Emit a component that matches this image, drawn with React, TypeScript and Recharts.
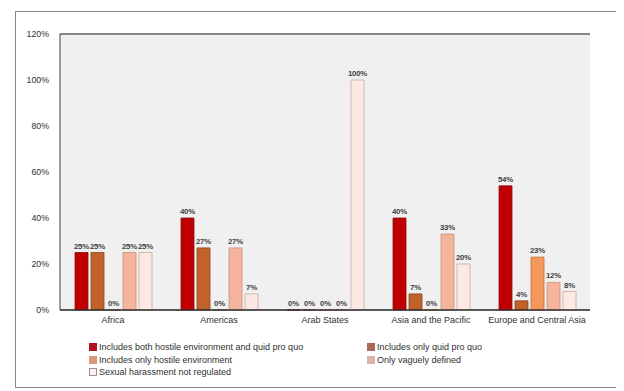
import React from "react";
import { BarChart, Bar, XAxis, YAxis, CartesianGrid, LabelList, ReferenceLine } from "recharts";

const regions = ["Africa", "Americas", "Arab States", "Asia and the Pacific", "Europe and Central Asia"];
const bothHostileAndQuid = [25, 40, 0, 40, 54];
const onlyQuid = [25, 27, 0, 7, 4];
const onlyHostile = [0, 0, 0, 0, 23];
const vaguelyDefined = [25, 27, 0, 33, 12];
const notRegulated = [25, 7, 100, 20, 8];
const yTicks = [0, 20, 40, 60, 80, 100, 120];

const seriesNames = [
  "Includes both hostile environment and quid pro quo",
  "Includes only quid pro quo",
  "Includes only hostile environment",
  "Only vaguely defined",
  "Sexual harassment not regulated",
];
const seriesKeys = ["s1", "s2", "s3", "s4", "s5"];
const fills = ["#c00000", "#c0622a", "#f4975a", "#f4b59c", "#fde9e4"];
const strokes = ["#8a1010", "#8a4a22", "#c07040", "#c89080", "#c8a8a0"];
const legendFills = ["#b01020", "#a86a55", "#d89a78", "#dcb4a4", "#fbf4f2"];

const data = regions.map((r, i) => ({
  region: r,
  s1: bothHostileAndQuid[i],
  s2: onlyQuid[i],
  s3: onlyHostile[i],
  s4: vaguelyDefined[i],
  s5: notRegulated[i],
}));

const FONT = "'Liberation Sans', Arial, sans-serif";

export default function App() {
  return (
    <div
      style={{
        position: "relative",
        marginLeft: 7,
        marginTop: 3,
        width: 600,
        height: 375,
        border: "1px solid #8a8a8a",
        boxShadow: "2px 2px 3px rgba(0,0,0,0.25)",
        background: "#fff",
        fontFamily: FONT,
      }}
    >
      <BarChart
        width={600}
        height={375}
        data={data}
        margin={{ top: 22, right: 26, bottom: 59, left: 0 }}
        barSize={13}
        barGap={3}
      >
        <CartesianGrid vertical={false} stroke="#a0a0a0" fill="#f0f0f0" />
        <XAxis
          dataKey="region"
          tickLine={false}
          tickSize={0}
          tickMargin={7}
          axisLine={{ stroke: "#303030", strokeWidth: 1.5 }}
          tick={{ fontSize: 9, fill: "#303030", fontFamily: FONT }}
          interval={0}
          height={18}
        />
        <YAxis
          yAxisId="left"
          domain={[0, 120]}
          ticks={yTicks}
          tickFormatter={(v: number) => `${v}%`}
          tickLine={false}
          tickSize={0}
          tickMargin={11}
          width={44}
          axisLine={{ stroke: "#404040" }}
          tick={{ fontSize: 8.8, fill: "#303030", fontFamily: FONT }}
        />
        <YAxis
          yAxisId="right"
          orientation="right"
          domain={[0, 120]}
          tick={false}
          tickLine={false}
          width={0}
          axisLine={{ stroke: "#404040" }}
        />
        <ReferenceLine yAxisId="left" y={120} stroke="#404040" />
        {seriesKeys.map((k, i) => (
          <Bar
            key={k}
            yAxisId="left"
            dataKey={k}
            name={seriesNames[i]}
            fill={fills[i]}
            stroke={strokes[i]}
            strokeWidth={0.8}
            minPointSize={0.01}
            isAnimationActive={false}
          >
            <LabelList
              dataKey={k}
              position="top"
              offset={4}
              formatter={(v: number) => `${v}%`}
              style={{ fontSize: 7.8, fontWeight: 700, fill: "#404040", fontFamily: FONT, letterSpacing: -0.2 }}
            />
          </Bar>
        ))}
      </BarChart>
      <div
        style={{
          position: "absolute",
          left: 73,
          top: 329,
          width: 520,
          display: "grid",
          gridTemplateColumns: "278px 200px",
          rowGap: 0,
          fontSize: 9,
          color: "#303030",
          lineHeight: "12.6px",
        }}
      >
        {seriesNames.map((n, i) => (
          <div key={n} style={{ display: "flex", alignItems: "center", whiteSpace: "nowrap" }}>
            <span
              style={{
                display: "inline-block",
                width: 6,
                height: 6,
                marginRight: 2,
                background: legendFills[i],
                border: "0.5px solid " + (i === 4 ? "#a09090" : legendFills[i]),
              }}
            />
            {n}
          </div>
        ))}
      </div>
    </div>
  );
}
